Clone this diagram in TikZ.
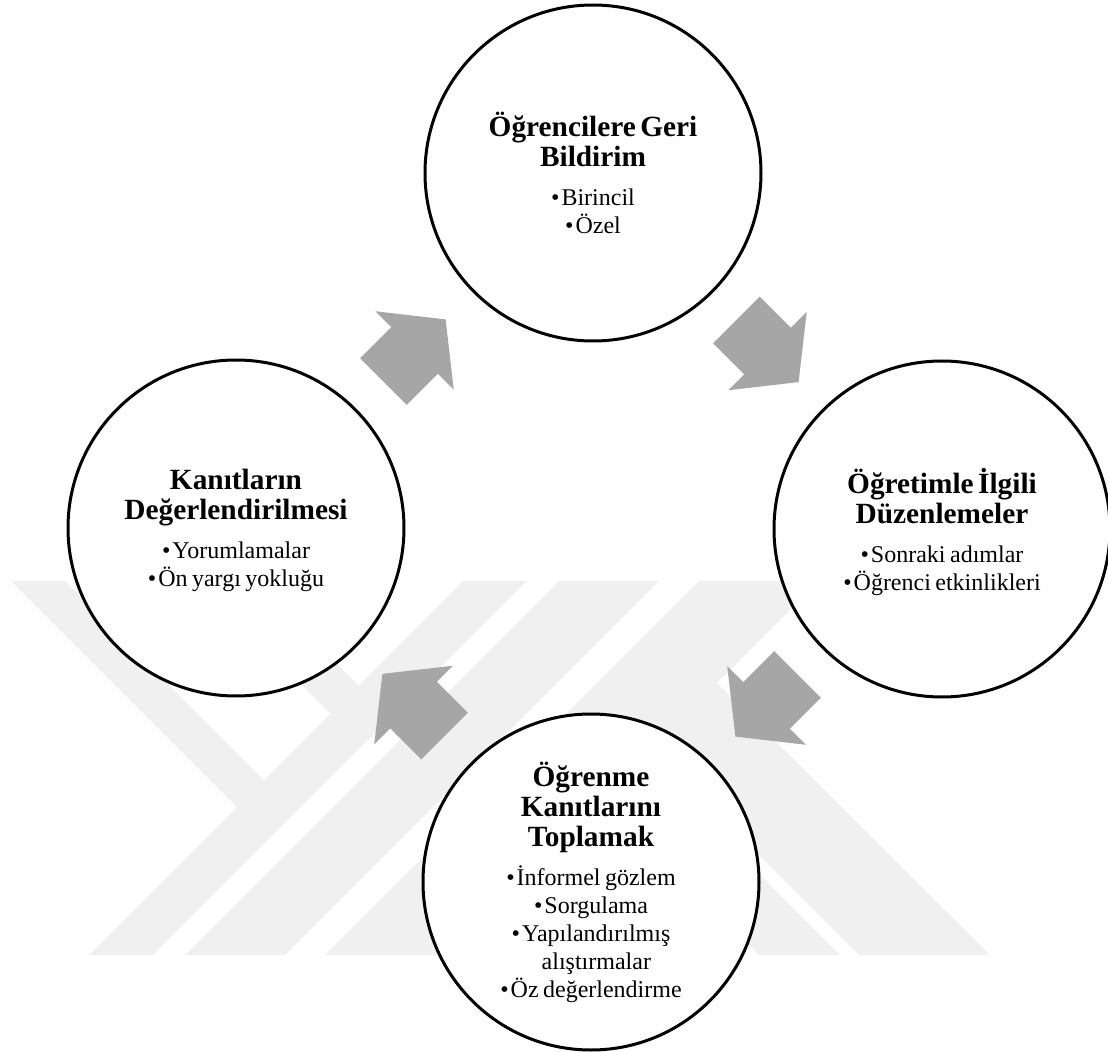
\documentclass[tikz,border=0pt]{standalone}
\usepackage{fontspec}
\setmainfont{Liberation Serif}
\usetikzlibrary{calc}
\definecolor{arrowgray}{RGB}{166,166,166}
\definecolor{wmgray}{RGB}{240,240,240}
\setlength\parindent{0pt}
\newcommand\ttlfont{\fontsize{22}{22.5}\selectfont\bfseries}
\newcommand\itmfont{\fontsize{18}{21}\selectfont\mdseries}
\newcommand\gapline{\par\vspace{8.25pt}}
\newcommand\bul{\textbullet\kern1.5pt}
\tikzset{
  cyc/.style={circle, draw=black, line width=2.25pt, fill=white,
    minimum size=252pt, inner sep=0pt, outer sep=0pt},
  txt/.style={text width=240pt, align=center, inner sep=0pt},
  blockarrow/.pic={
    \fill[arrowgray] (-44,-33) -- (0,-33) -- (0,-55.5) -- (44,0)
      -- (0,55.5) -- (0,33) -- (-44,33) -- cycle;
  }
}
\begin{document}
\begin{tikzpicture}[x=0.75pt, y=-0.75pt]
\useasboundingbox (0,0) rectangle (1108,1052);
% watermark
\begin{scope}
  \clip (0,581) rectangle (1108,954);
  \fill[wmgray] (544,500) -- (608,500) -- (108,1000) -- (44,1000) -- cycle;
  \fill[wmgray] (640,500) -- (740,500) -- (240,1000) -- (140,1000) -- cycle;
  \fill[wmgray] (780,500) -- (900,500) -- (400,1000) -- (280,1000) -- cycle;
  \fill[wmgray] (-70,500) -- (-16,500) -- (279,795) -- (252,822) -- cycle;
  \fill[wmgray] (117,500) -- (173,500) -- (373.5,700.5) -- (345.5,728.5) -- cycle;
  \fill[wmgray] (566,761) -- (606,721) -- (880,995) -- (799,995) -- cycle;
  \fill[wmgray] (636,732) -- (701,667) -- (1030,995) -- (899,995) -- cycle;
\end{scope}
% circles
\node[cyc] (top) at (593,173) {};
\node[cyc] (left) at (236,528) {};
\node[cyc] (right) at (942,529) {};
\node[cyc] (bottom) at (591,882) {};
% texts
\node[txt] (topT) at (top.center) {\ttlfont Öğrencilere Geri\\Bildirim\gapline
  \itmfont \bul Birincil\\\bul Özel\par};
\node[txt] (leftT) at ([yshift=-2pt]left.center) {\ttlfont Kanıtların\\Değerlendirilmesi\gapline
  \itmfont \bul Yorumlamalar\\\bul Ön yargı yokluğu\par};
\node[txt] (rightT) at ([yshift=-2pt]right.center) {\ttlfont Öğretimle İlgili\\Düzenlemeler\gapline
  \itmfont \bul Sonraki adımlar\\\bul Öğrenci etkinlikleri\par};
\node[txt] (bottomT) at (bottom.center) {\ttlfont Öğrenme\\Kanıtlarını\\Toplamak\gapline
  \itmfont \bul İnformel gözlem\\\bul Sorgulama\\\bul Yapılandırılmış\\\hspace*{8pt}alıştırmalar\\\bul Öz değerlendirme\par};
% arrows
\pic[rotate=45] at ($(left.center)!0.5!(top.center)$) {blockarrow};
\pic[rotate=-45] at ($(top.center)!0.5!(right.center)$) {blockarrow};
\pic[rotate=-135] at ($(right.center)!0.5!(bottom.center)$) {blockarrow};
\pic[rotate=135] at ($(bottom.center)!0.5!(left.center)$) {blockarrow};
\end{tikzpicture}
\end{document}
